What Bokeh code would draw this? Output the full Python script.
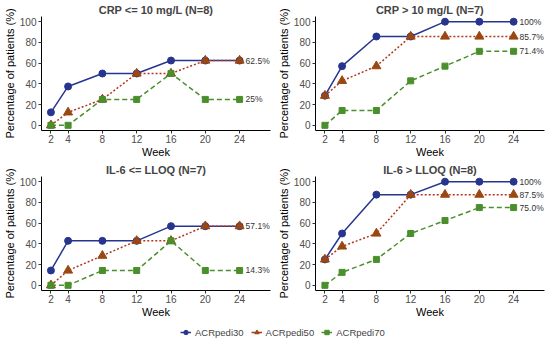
from bokeh.plotting import figure
from bokeh.layouts import column, row
from bokeh.models import FixedTicker, Range1d, Legend, LegendItem
from bokeh.embed import file_html
from bokeh.resources import INLINE
from bokeh.core.properties import value

weeks = [2, 4, 8, 12, 16, 20, 24]

titles = ["CRP <= 10 mg/L (N=8)", "CRP > 10 mg/L (N=7)",
          "IL-6 <= LLOQ (N=7)", "IL-6 > LLOQ (N=8)"]

crp_low_30 = [12.5, 37.5, 50, 50, 62.5, 62.5, 62.5]
crp_low_50 = [0, 12.5, 25, 50, 50, 62.5, 62.5]
crp_low_70 = [0, 0, 25, 25, 50, 25, 25]

crp_high_30 = [28.6, 57.1, 85.7, 85.7, 100, 100, 100]
crp_high_50 = [28.6, 42.9, 57.1, 85.7, 85.7, 85.7, 85.7]
crp_high_70 = [0, 14.3, 14.3, 42.9, 57.1, 71.4, 71.4]

il6_low_30 = [14.3, 42.9, 42.9, 42.9, 57.1, 57.1, 57.1]
il6_low_50 = [0, 14.3, 28.6, 42.9, 42.9, 57.1, 57.1]
il6_low_70 = [0, 0, 14.3, 14.3, 42.9, 14.3, 14.3]

il6_high_30 = [25, 50, 87.5, 87.5, 100, 100, 100]
il6_high_50 = [25, 37.5, 50, 87.5, 87.5, 87.5, 87.5]
il6_high_70 = [0, 12.5, 25, 50, 62.5, 75, 75]

end_labels = [
    [(62.5, "62.5%"), (25, "25%")],
    [(100, "100%"), (85.7, "85.7%"), (71.4, "71.4%")],
    [(57.1, "57.1%"), (14.3, "14.3%")],
    [(100, "100%"), (87.5, "87.5%"), (75.0, "75.0%")],
]

panels = [
    (crp_low_30, crp_low_50, crp_low_70),
    (crp_high_30, crp_high_50, crp_high_70),
    (il6_low_30, il6_low_50, il6_low_70),
    (il6_high_30, il6_high_50, il6_high_70),
]

series_names = ["ACRpedi30", "ACRpedi50", "ACRpedi70"]
line_colors = ["#27358F", "#B5341E", "#4A8F2C"]
marker_colors = ["#27358F", "#9A4712", "#4A8F2C"]
markers = ["circle", "triangle", "square"]
marker_sizes = [7, 9, 6]
dashes = ["solid", "2 2", "5 3"]

FONT = "Liberation Sans"


def make_panel(idx):
    p = figure(frame_width=229, frame_height=114, output_backend="svg",
               toolbar_location=None,
               x_range=Range1d(0.9, 27.6), y_range=Range1d(-5, 105),
               min_border_left=0, min_border_right=4, min_border_top=0,
               min_border_bottom=0)
    p.title.text = titles[idx]
    p.title.text_font = FONT
    p.title.text_font_size = "11px"
    p.title.text_font_style = "bold"
    p.title.align = "center"
    p.title.standoff = 2
    p.title.offset = 0
    p.outline_line_color = None
    p.grid.visible = False
    for ax in (p.xaxis[0], p.yaxis[0]):
        ax.axis_line_color = "black"
        ax.axis_line_width = 1
        ax.major_tick_line_color = "#333333"
        ax.major_tick_out = 3
        ax.major_tick_in = 0
        ax.minor_tick_line_color = None
        ax.major_label_text_font = FONT
        ax.major_label_text_font_size = "10px"
        ax.major_label_text_color = "#4D4D4D"
        ax.major_label_standoff = 1
        ax.axis_label_text_font = FONT
        ax.axis_label_text_font_size = "11px"
        ax.axis_label_text_font_style = "normal"
        ax.axis_label_text_color = "black"
        ax.axis_label_standoff = 0
    p.yaxis.major_label_standoff = 2
    p.yaxis.axis_label_standoff = 1
    p.xaxis.ticker = FixedTicker(ticks=weeks)
    p.yaxis.ticker = FixedTicker(ticks=[0, 20, 40, 60, 80, 100])
    p.xaxis.axis_label = "Week"
    p.yaxis.axis_label = "Percentage of patients (%)"

    for s in range(3):
        vals = panels[idx][s]
        p.line(weeks, vals, line_color=line_colors[s], line_width=1.5,
               line_dash=dashes[s])
        p.scatter(weeks, vals, marker=markers[s], size=marker_sizes[s],
                  fill_color=marker_colors[s], line_color=marker_colors[s])
    ys = [v for v, t in end_labels[idx]]
    ts = [t for v, t in end_labels[idx]]
    p.text(x=[24] * len(ys), y=ys, text=ts, x_offset=6,
           text_baseline="middle", text_align="left",
           text_font=value(FONT), text_font_size="8.5px", text_color="#333333")
    return p


figs = [make_panel(i) for i in range(4)]

leg = figure(width=534, height=22, output_backend="svg", toolbar_location=None,
             x_range=Range1d(0, 1), y_range=Range1d(0, 1),
             min_border=0)
leg.axis.visible = False
leg.grid.visible = False
leg.outline_line_color = None
items = []
for s in range(3):
    r1 = leg.line([-5, -4], [-5, -4], line_color=line_colors[s], line_width=1.5,
                  line_dash="solid")
    r2 = leg.scatter([-5], [-5], marker=markers[s], size=marker_sizes[s] - 1,
                     fill_color=marker_colors[s], line_color=marker_colors[s])
    items.append(LegendItem(label=series_names[s], renderers=[r1, r2]))
legend = Legend(items=items, orientation="horizontal", location=(180, 3),
                label_text_font=FONT, label_text_font_size="9.5px",
                background_fill_alpha=0, border_line_color=None,
                glyph_width=11, glyph_height=14, label_standoff=4, spacing=7,
                padding=0, margin=0)
leg.add_layout(legend, "center")

layout = column(row(figs[0], figs[1], spacing=0), row(figs[2], figs[3], spacing=0),
                leg, spacing=0)

open("out.html", "w").write(file_html(layout, INLINE))
